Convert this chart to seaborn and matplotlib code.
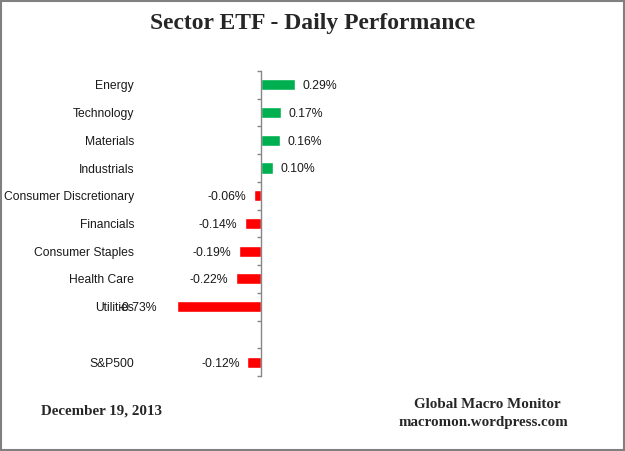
import numpy as np
import pandas as pd
import matplotlib
matplotlib.use("Agg")
import matplotlib.pyplot as plt
from matplotlib.patches import Rectangle
import seaborn as sns

# 数据
sectors = ["Energy", "Technology", "Materials", "Industrials",
           "Consumer Discretionary", "Financials", "Consumer Staples",
           "Health Care", "Utilities", " ", "S&P500"]
changes = [0.29, 0.17, 0.16, 0.10, -0.06, -0.14, -0.19, -0.22, -0.73, np.nan, -0.12]

title = "Sector ETF - Daily Performance"
date_text = "December 19, 2013"
source_lines = ["Global Macro Monitor", "macromon.wordpress.com"]

df = pd.DataFrame({"sector": sectors, "change": changes})
df["sign"] = np.where(df["change"] >= 0, "up", "down")

sns.set_style("white")
plt.rcParams["font.family"] = ["Liberation Sans", "DejaVu Sans"]

fig = plt.figure(figsize=(6.25, 4.51), dpi=100)
ax = fig.add_axes([0.2325, 0.1663, 0.297, 0.6763])

sns.barplot(data=df, x="change", y="sector", hue="sign", order=sectors,
            palette={"up": "#00B050", "down": "#FF0000"}, dodge=False,
            width=0.4, legend=False, ax=ax, orient="h", saturation=1)

for c in ax.containers:
    anns = ax.bar_label(c, labels=[f"{v:.2f}%" if not np.isnan(v) else "" for v in c.datavalues],
                        padding=5.5, fontsize=8.8, color="#1a1a1a")
    # Utilities 的标签离柱子更远一些
    for a, v in zip(anns, c.datavalues):
        if v == -0.73:
            a.xyann = (-14, a.xyann[1])
        a.xyann = (a.xyann[0], a.xyann[1] - 1)

ax.set_xlim(-1.0, 0.6)
ax.set_ylim(10.5, -0.5)
ax.set_xlabel("")
ax.set_ylabel("")
ax.set_xticks([])

# 纵轴放在 0 处，刻度在类别之间
for s in ["top", "right", "bottom"]:
    ax.spines[s].set_visible(False)
ax.spines["left"].set_position(("data", 0))
ax.spines["left"].set_color("#868686")
ax.spines["left"].set_linewidth(1)
ax.set_yticks(range(len(sectors)))
ax.set_yticklabels(sectors)
ax.set_yticks(np.arange(-0.5, len(sectors), 1), minor=True)
ax.tick_params(axis="y", which="major", length=0, pad=91.5, labelsize=8.7,
               labelcolor="#1a1a1a")
ax.tick_params(axis="y", which="minor", length=3, width=1, color="#868686",
               direction="out", left=True)

fig.text(0.5, 0.949, title, ha="center", va="center", fontsize=17,
         fontweight="bold", family="Liberation Serif")
fig.text(0.163, 0.0887, date_text, ha="center", va="center", fontsize=10.8,
         fontweight="bold", family="Liberation Serif")
fig.text(0.779, 0.102, source_lines[0], ha="center", va="center", fontsize=10.8,
         fontweight="bold", family="Liberation Serif")
fig.text(0.774, 0.064, source_lines[1], ha="center", va="center", fontsize=10.8,
         fontweight="bold", family="Liberation Serif")

# 外框
fig.patches.append(Rectangle((0.001, 0.002), 0.997, 0.996, transform=fig.transFigure,
                             fill=False, edgecolor="#808080", linewidth=1.5))

fig.savefig("out.png", dpi=100)
